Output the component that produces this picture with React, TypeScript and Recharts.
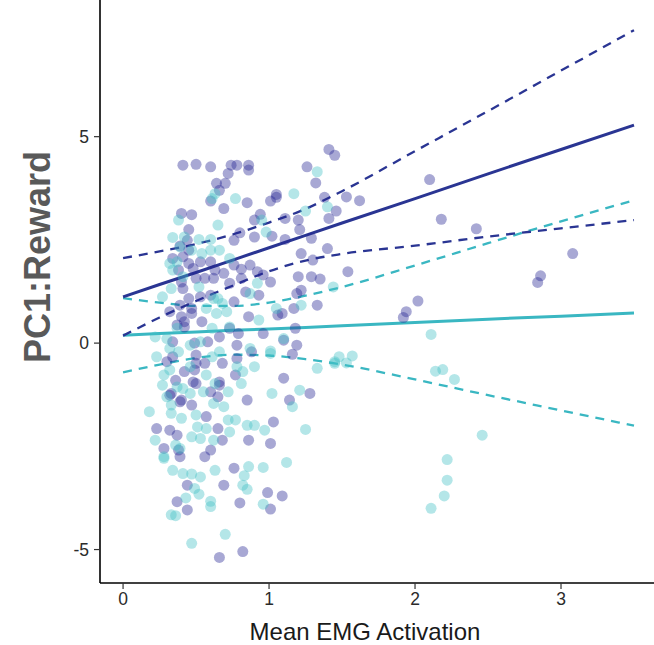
import { ComposedChart, Scatter, Line, XAxis, YAxis, Label } from 'recharts';

// points: [Mean EMG Activation, PC1:Reward]
const darkPoints: [number, number][] = [
  [0.41, 4.31], [0.5, 4.33], [0.6, 4.27], [0.74, 4.31], [0.78, 4.31], [0.86, 4.31], [0.86, 4.19], [0.72, 4.11],
  [1.26, 4.27], [1.41, 4.69], [1.45, 4.55], [1.32, 3.88], [0.64, 3.87], [0.7, 3.87], [0.66, 3.7], [0.6, 3.44],
  [0.69, 3.26], [0.85, 3.4], [1.01, 3.44], [1.05, 3.6], [1.05, 3.53], [1.38, 3.53], [1.46, 3.2], [0.4, 3.14],
  [0.47, 3.11], [0.94, 3.12], [0.9, 2.98], [1.11, 3.02], [1.2, 2.98], [1.41, 3.02], [0.45, 2.75], [0.8, 2.67],
  [0.9, 2.57], [1.02, 2.59], [1.11, 2.51], [1.21, 2.75], [1.29, 2.54], [0.76, 2.49], [0.39, 2.35], [0.44, 2.49],
  [0.34, 2.05], [0.41, 2.09], [0.45, 1.93], [0.38, 1.77], [0.48, 1.81], [0.53, 1.97], [0.6, 1.97], [0.63, 1.77],
  [0.56, 1.57], [0.5, 1.57], [0.62, 1.57], [0.69, 1.69], [0.76, 1.89], [0.81, 1.79], [0.87, 1.89], [0.92, 1.73],
  [0.96, 1.65], [1.01, 1.48], [0.73, 1.45], [0.81, 1.57], [1.22, 2.17], [1.3, 2.01], [1.4, 2.29], [1.2, 1.61],
  [1.29, 1.61], [1.35, 1.55], [1.22, 1.28], [1.19, 1.2], [0.84, 1.24], [0.93, 1.16], [0.76, 1.0], [0.86, 0.64],
  [1.06, 0.68], [1.09, 0.72], [1.17, 0.84], [1.33, 0.92], [0.41, 1.32], [0.45, 1.08], [0.39, 0.92], [0.47, 0.72],
  [0.4, 0.64], [0.32, 0.76], [0.53, 1.12], [0.6, 1.16], [0.54, 0.52], [0.37, 0.44], [0.42, 0.39], [0.73, 0.36],
  [0.79, 0.23], [0.66, 0.15], [0.96, 0.23], [0.34, 0.03], [0.49, 0.0], [0.58, 0.03], [0.78, -0.05], [1.19, -0.05],
  [1.18, 0.36], [1.1, 0.07], [0.3, -0.45], [0.34, -0.33], [0.5, -0.29], [0.56, -0.49], [0.68, -0.49], [0.78, -0.37],
  [0.88, -0.21], [1.16, -0.27], [0.42, -0.69], [0.49, -0.65], [0.36, -0.9], [0.48, -0.94], [0.5, -0.98], [0.77, -0.77],
  [1.1, -0.85], [0.32, -1.26], [0.39, -1.42], [0.47, -1.5], [0.6, -1.18], [0.65, -1.3], [0.66, -0.94], [0.85, -1.38],
  [1.14, -1.38], [1.28, -1.22], [0.23, -2.07], [0.57, -1.78], [0.65, -2.07], [0.68, -2.35], [0.32, -2.11], [0.37, -2.23],
  [0.28, -2.55], [0.38, -2.59], [0.6, -2.59], [0.86, -2.35], [1.01, -2.43], [1.03, -1.91], [0.56, -2.75], [0.39, -2.75],
  [0.76, -3.03], [0.44, -3.44], [0.69, -3.44], [0.37, -3.84], [0.44, -4.04], [0.8, -3.87], [0.99, -3.62], [1.09, -3.7],
  [1.01, -4.02], [0.66, -5.19], [0.82, -5.05], [2.1, 3.96], [1.53, 3.54], [1.62, 3.45], [2.18, 3.0], [2.42, 2.77],
  [1.54, 1.73], [3.08, 2.17], [2.86, 1.63], [2.84, 1.47], [2.02, 1.02], [1.94, 0.76], [1.92, 0.62],
  [0.45, 2.25], [0.4, 1.48], [0.47, 0.84], [0.42, 0.52], [0.33, -1.22], [0.4, -1.38], [0.66, -1.02], [0.5, -0.49],
];

const cyanPoints: [number, number][] = [
  [1.33, 4.15], [1.17, 3.62], [0.77, 3.5], [0.63, 3.62], [0.61, 3.5], [1.4, 3.3], [1.25, 3.2], [0.65, 2.86],
  [0.38, 2.98], [0.34, 2.56], [0.98, 2.69], [0.95, 2.98], [0.6, 2.51], [0.52, 2.51], [0.42, 2.57], [0.37, 1.97],
  [0.32, 1.93], [0.6, 2.25], [0.66, 2.25], [0.73, 2.05], [0.27, 1.12], [0.33, 1.32], [0.65, 1.08], [0.71, 0.76],
  [0.57, 0.84], [0.64, 0.72], [0.92, 1.45], [0.87, 1.2], [0.93, 0.56], [1.05, 0.84], [1.22, 0.92], [1.44, 1.36],
  [0.73, 0.39], [0.61, 0.36], [0.22, 0.15], [0.3, 0.11], [1.1, 0.11], [0.46, -0.05], [0.87, -0.13], [1.01, -0.19],
  [0.23, -0.33], [0.38, -0.21], [0.61, -0.33], [0.78, -0.57], [0.82, -0.69], [0.9, -0.57], [1.01, -0.25], [1.33, -0.61],
  [1.45, -0.49], [0.27, -1.02], [0.3, -1.3], [0.41, -1.1], [0.55, -1.18], [0.63, -0.98], [0.72, -1.18], [0.81, -0.98],
  [1.02, -1.22], [1.21, -1.14], [0.18, -1.66], [0.33, -1.7], [0.4, -1.82], [0.5, -1.74], [0.69, -1.54], [0.72, -1.86],
  [0.77, -1.86], [0.85, -1.99], [0.9, -1.99], [0.97, -2.11], [1.16, -1.54], [1.25, -2.09], [0.22, -2.35], [0.47, -2.27],
  [0.53, -2.31], [0.51, -2.03], [0.73, -2.15], [0.39, -2.55], [0.28, -2.75], [0.28, -2.79], [0.34, -3.08], [0.41, -3.16],
  [0.47, -3.17], [0.53, -3.24], [0.63, -3.08], [0.86, -2.99], [0.96, -3.01], [1.12, -2.89], [0.83, -3.21], [0.82, -3.44],
  [0.85, -3.54], [0.49, -3.52], [0.52, -3.66], [0.43, -3.75], [0.6, -3.83], [0.6, -3.96], [0.96, -3.9], [0.33, -4.16],
  [0.36, -4.18], [0.7, -4.63], [0.47, -4.85], [2.11, 0.21], [1.45, -0.45], [1.48, -0.33], [1.53, -0.48], [1.57, -0.31],
  [2.14, -0.68], [2.19, -0.64], [2.27, -0.88], [2.46, -2.23], [2.22, -2.82], [2.22, -3.32], [2.2, -3.7], [2.11, -4.0],
  [0.39, 2.33], [0.47, 2.25], [0.54, 2.17], [0.34, 1.77], [0.41, 1.61], [0.52, 1.36], [0.62, 1.08], [0.68, 0.96],
  [0.37, 0.36], [0.32, -0.13], [0.53, 0.03], [0.66, -0.21], [0.32, -0.65], [0.46, -0.57], [0.57, -0.77], [0.28, -0.77],
  [0.37, -1.06], [0.46, -1.22], [0.62, -1.46], [0.33, -1.5], [0.57, -2.07], [0.36, -2.47], [0.62, -2.35],
];

// fitted lines and confidence bands, read at these x positions
const fitX = [0, 0.25, 0.5, 0.75, 1, 1.25, 1.5, 2, 2.5, 3, 3.5];
const darkFit = [1.12, 1.42, 1.71, 2.01, 2.31, 2.61, 2.91, 3.5, 4.1, 4.69, 5.28];
const darkUpper = [2.06, 2.22, 2.4, 2.63, 2.92, 3.25, 3.68, 4.65, 5.62, 6.6, 7.58];
const darkLower = [0.18, 0.62, 1.02, 1.39, 1.74, 2.0, 2.16, 2.36, 2.58, 2.78, 2.98];
const cyanFit = [0.19, 0.23, 0.27, 0.31, 0.34, 0.38, 0.42, 0.5, 0.58, 0.65, 0.73];
const cyanUpper = [1.09, 0.98, 0.9, 0.9, 0.98, 1.15, 1.36, 1.88, 2.42, 2.95, 3.46];
const cyanLower = [-0.71, -0.52, -0.36, -0.28, -0.3, -0.39, -0.52, -0.88, -1.26, -1.63, -2.0];

const xTicks = [0, 1, 2, 3];
const yTicks = [-5, 0, 5];

const DARK = '#2a3593';
const CYAN = '#3ab7c2';

const fitData = fitX.map((x, i) => ({
  x,
  darkFit: darkFit[i],
  darkUpper: darkUpper[i],
  darkLower: darkLower[i],
  cyanFit: cyanFit[i],
  cyanUpper: cyanUpper[i],
  cyanLower: cyanLower[i],
}));

const toRows = (pts: [number, number][]) => pts.map(([x, y]) => ({ x, y }));

const dot = (fill: string) => (props: any) => (
  <circle cx={props.cx} cy={props.cy} r={5.5} fill={fill} fillOpacity={0.4} stroke="none" />
);

export default function App() {
  return (
    <div style={{ position: 'absolute', left: 0, top: 0, background: '#fff', fontFamily: '"Liberation Sans", Arial, sans-serif' }}>
      <ComposedChart width={654} height={645} data={fitData} margin={{ top: 0, right: 0, bottom: 0, left: 0 }}>
        <XAxis
          type="number"
          dataKey="x"
          domain={[-0.158, 3.637]}
          ticks={xTicks}
          allowDataOverflow
          height={62}
          tickSize={6}
          tickMargin={4}
          axisLine={{ stroke: '#000', strokeWidth: 1.6 }}
          tickLine={{ stroke: '#333', strokeWidth: 1.2 }}
          tick={{ fill: '#2b2b2b', fontSize: 17.5 }}
        >
          <Label
            content={({ viewBox }: any) => (
              <text x={viewBox.x + 265} y={viewBox.y + 57} textAnchor="middle" fontSize={24} fill="#1a1a1a">
                Mean EMG Activation
              </text>
            )}
          />
        </XAxis>
        <YAxis
          type="number"
          domain={[-5.81, 8.31]}
          ticks={yTicks}
          allowDataOverflow
          width={100}
          tickSize={6}
          tickMargin={5}
          axisLine={{ stroke: '#000', strokeWidth: 1.6 }}
          tickLine={{ stroke: '#333', strokeWidth: 1.2 }}
          tick={{ fill: '#2b2b2b', fontSize: 17.5 }}
        >
          <Label
            content={() => (
              <text
                x={0}
                y={0}
                transform="translate(50 257) rotate(-90)"
                textAnchor="middle"
                fontSize={36}
                fontWeight="bold"
                fill="#595959"
              >
                PC1:Reward
              </text>
            )}
          />
        </YAxis>
        <Scatter data={toRows(darkPoints)} dataKey="y" shape={dot('#262694')} isAnimationActive={false} />
        <Scatter data={toRows(cyanPoints)} dataKey="y" shape={dot('#44c1c6')} isAnimationActive={false} />
        <Line dataKey="cyanUpper" type="monotone" stroke={CYAN} strokeWidth={2.3} strokeDasharray="9 7" dot={false} isAnimationActive={false} />
        <Line dataKey="cyanLower" type="monotone" stroke={CYAN} strokeWidth={2.3} strokeDasharray="9 7" dot={false} isAnimationActive={false} />
        <Line dataKey="cyanFit" type="linear" stroke={CYAN} strokeWidth={3} dot={false} isAnimationActive={false} />
        <Line dataKey="darkUpper" type="monotone" stroke={DARK} strokeWidth={2.3} strokeDasharray="9 7" dot={false} isAnimationActive={false} />
        <Line dataKey="darkLower" type="monotone" stroke={DARK} strokeWidth={2.3} strokeDasharray="9 7" dot={false} isAnimationActive={false} />
        <Line dataKey="darkFit" type="linear" stroke={DARK} strokeWidth={3} dot={false} isAnimationActive={false} />
      </ComposedChart>
    </div>
  );
}
